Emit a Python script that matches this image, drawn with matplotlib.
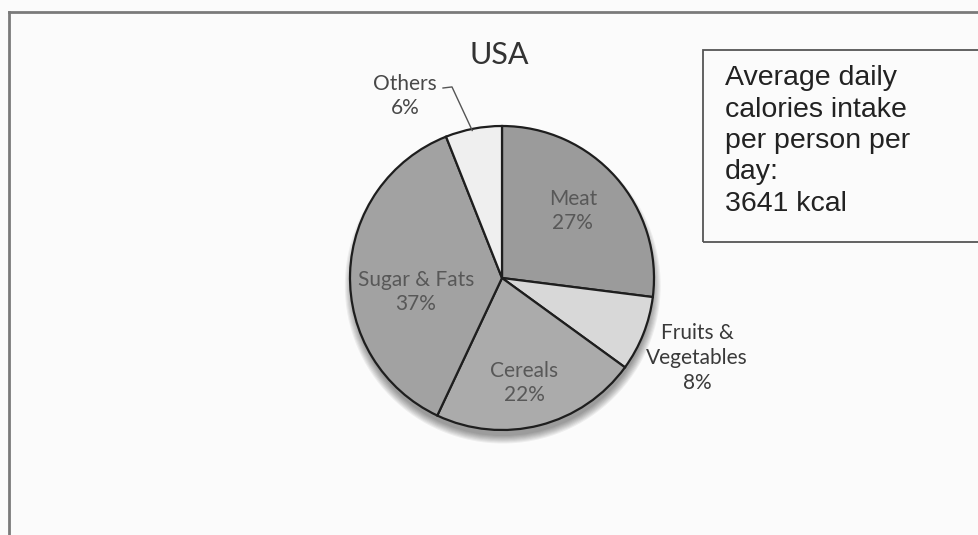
import matplotlib.pyplot as plt
from matplotlib.lines import Line2D
from matplotlib.patches import Circle, Rectangle
import numpy as np

# calorie shares, clockwise from 12 o'clock
categories = ['Meat', 'Fruits &\nVegetables', 'Cereals', 'Sugar & Fats', 'Others']
shares = [27, 8, 22, 37, 6]
title = 'USA'
note_lines = ['Average daily', 'calories intake', 'per person per', 'day:', '3641 kcal']

# styling
colors = ['#9b9b9b', '#d8d8d8', '#ababab', '#a2a2a2', '#efefef']
label_colors = ['#585858', '#3a3a3a', '#585858', '#585858', '#484848']
# label spot for each slice: (radius, angle offset from slice middle in degrees)
label_spots = [(0.642, 2), (1.387, -0.7), (0.706, -2.6), (0.573, 11), (1.357, 17.3)]

W, H, DPI = 979, 535, 100
fig = plt.figure(figsize=(W / DPI, H / DPI), dpi=DPI)
fig.patch.set_facecolor('#fbfbfb')

# pie axes: centre at (502, 278) px from top-left, radius 152 px
R = 152
L = 1.45
S = 2 * L * R
cx, cy = 502, H - 278
ax = fig.add_axes([(cx - S / 2) / W, (cy - S / 2) / H, S / W, S / H])

# soft drop shadow under the pie
for i in range(8):
    ax.add_patch(Circle((0.005, -0.05), 0.99 + 0.007 * i, color='black',
                        alpha=0.055, zorder=0, lw=0))

wedges, _ = ax.pie(shares, colors=colors, startangle=90, counterclock=False,
                   radius=1.0,
                   wedgeprops=dict(edgecolor='#1e1e1e', linewidth=1.6))
for w in wedges:
    w.set_zorder(2)
ax.set_xlim(-L, L)
ax.set_ylim(-L, L)
ax.set_aspect('equal')
ax.axis('off')

font = ['Lato', 'DejaVu Sans']
for w, name, val, (r, off), col in zip(wedges, categories, shares, label_spots, label_colors):
    mid = np.deg2rad((w.theta1 + w.theta2) / 2 + off)
    x, y = r * np.cos(mid), r * np.sin(mid)
    ax.text(x, y, f'{name}\n{val}%', ha='center', va='center', fontsize=15,
            color=col, family=font, linespacing=1.3, zorder=3)

# leader line for the small "Others" slice
ow = wedges[-1]
a = np.deg2rad((ow.theta1 + ow.theta2) / 2 + 0.6)
ax.plot([-0.388, -0.329, np.cos(a) * 0.99], [1.25, 1.257, np.sin(a) * 0.99],
        color='#555555', lw=1.0, zorder=3)

fig.text(499 / W, 1 - 55 / H, title, ha='center', va='center', fontsize=22,
         color='#333333', family=font)

# note box on the right, running off the edge
fig.add_artist(Rectangle((703 / W, 1 - 242 / H), 300 / W, 192 / H,
                         transform=fig.transFigure, fill=False,
                         edgecolor='#555555', lw=1.3))
fig.text(725 / W, 1 - 141 / H, '\n'.join(note_lines), ha='left', va='center',
         fontsize=20.5, color='#222222', family=['Liberation Sans', 'DejaVu Sans'],
         linespacing=1.27)

# outer frame (top and left edges)
fig.add_artist(Line2D([9 / W, 1], [1 - 12 / H, 1 - 12 / H],
                      transform=fig.transFigure, color='#7a7a7a', lw=2))
fig.add_artist(Line2D([9 / W, 9 / W], [0, 1 - 12 / H],
                      transform=fig.transFigure, color='#7a7a7a', lw=2))

fig.savefig('out.png', dpi=DPI, facecolor=fig.get_facecolor())
